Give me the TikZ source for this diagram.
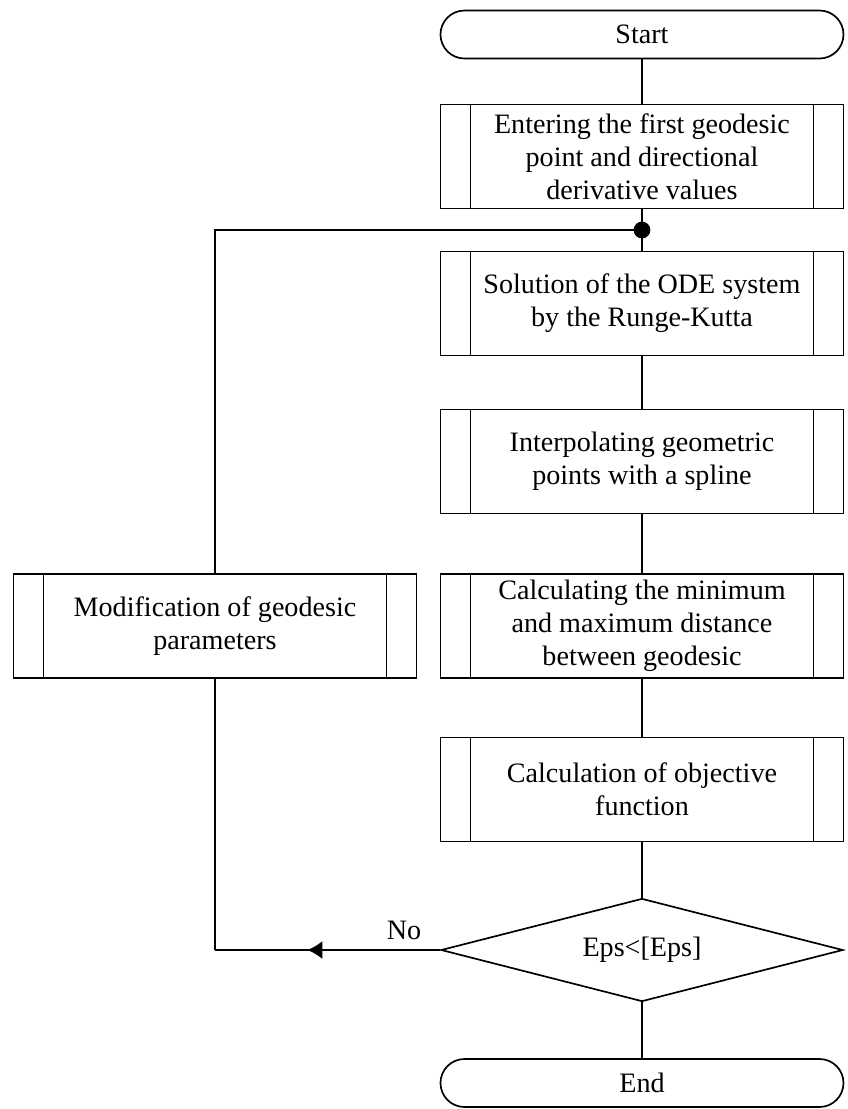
\documentclass[tikz,border=0pt]{standalone}
\usepackage{fontspec}
\setmainfont{Liberation Serif}
\usetikzlibrary{arrows.meta,positioning,shapes.geometric,calc,decorations.markings}

\begin{document}
\begin{tikzpicture}[
      every node/.style={on grid},
      font=\fontsize{20pt}{23.5pt}\selectfont,
      line width=1.2pt,
      termBox/.style={draw,rectangle,rounded corners=0.6cm,minimum width=10.075cm,minimum height=1.2cm},
      procBox/.style={draw,rectangle,minimum width=10.075cm,minimum height=2.6cm,align=center,
        path picture={
          \draw ([xshift=0.75cm]path picture bounding box.north west) -- ([xshift=0.75cm]path picture bounding box.south west);
          \draw ([xshift=-0.75cm]path picture bounding box.north east) -- ([xshift=-0.75cm]path picture bounding box.south east);
        }},
      decBox/.style={draw,diamond,aspect=3.9,minimum width=10.05cm,minimum height=2.575cm,inner sep=0pt},
      midArrow/.style={postaction={decorate},
        decoration={markings,mark=at position 0.59 with {\arrow{Latex[length=3.75mm,width=4.5mm]}}}}
    ]

    % main column
    \node[termBox] (start) {Start};
    \node[procBox, below=3.05cm of start] (enter) {Entering the first geodesic\\point and directional\\derivative values};
    \node[procBox, below=3.675cm of enter] (ode) {Solution of the ODE system\\by the Runge-Kutta};
    \node[procBox, below=3.95cm of ode] (spline) {Interpolating geometric\\points with a spline};
    \node[procBox, below=4.1125cm of spline] (dist) {Calculating the minimum\\and maximum distance\\between geodesic};
    \node[procBox, below=4.0875cm of dist] (objfun) {Calculation of objective\\function};
    \node[decBox, below=4.0125cm of objfun] (check) {Eps<[Eps]};
    \node[termBox, below=3.325cm of check] (finish) {End};

    % loop back
    \node[procBox, left=10.675cm of dist] (modify) {Modification of geodesic\\parameters};
    \coordinate (dot) at ($(enter.south)!0.5!(ode.north)$);
    \coordinate (turn) at (modify |- check.west);

    % the arrows
    \draw (start) -- (enter);
    \draw (enter) -- (ode);
    \draw (ode) -- (spline);
    \draw (spline) -- (dist);
    \draw (dist) -- (objfun);
    \draw (objfun) -- (check);
    \draw (check) -- (finish);
    \draw[midArrow] (check.west) -- node[pos=0.16,above=0.12cm] {No} (turn);
    \draw (turn) -- (modify.south);
    \draw (modify.north) |- (dot);
    \fill (dot) circle (0.21cm);

    \useasboundingbox (-16.05,0.8625) rectangle (5.125,-26.8625);
\end{tikzpicture}
\end{document}
